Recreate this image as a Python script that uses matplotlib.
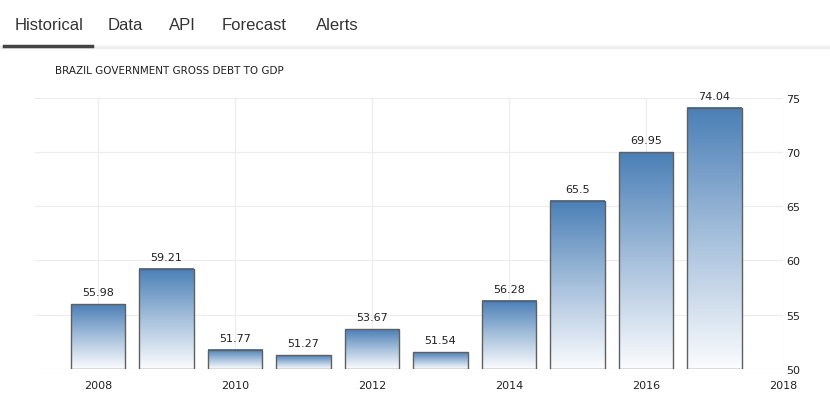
import numpy as np
import matplotlib
matplotlib.use("Agg")
import matplotlib.pyplot as plt
from matplotlib.colors import LinearSegmentedColormap

years = [2008, 2009, 2010, 2011, 2012, 2013, 2014, 2015, 2016, 2017]
values = [55.98, 59.21, 51.77, 51.27, 53.67, 51.54, 56.28, 65.5, 69.95, 74.04]
value_labels = ["55.98", "59.21", "51.77", "51.27", "53.67", "51.54", "56.28", "65.5", "69.95", "74.04"]
xticks = [2008, 2010, 2012, 2014, 2016, 2018]
yticks = [50, 55, 60, 65, 70, 75]
tabs = ["Historical", "Data", "API", "Forecast", "Alerts"]
title = "BRAZIL GOVERNMENT GROSS DEBT TO GDP"

W, H = 830, 402
fig = plt.figure(figsize=(W / 100, H / 100), dpi=100)
fig.patch.set_facecolor("white")

# tabs
tab_x = [15, 108, 169, 222, 316]
for t, x in zip(tabs, tab_x):
    fig.text(x / W, 1 - 25 / H, t, fontsize=12, color="#333333",
             family="Liberation Sans", va="center", ha="left")
fig.add_artist(plt.Line2D([0, 1], [1 - 48 / H, 1 - 48 / H], color="#eeeeee", lw=2.5))
fig.add_artist(plt.Line2D([4 / W, 92 / W], [1 - 47 / H, 1 - 47 / H], color="#444444", lw=2.5))

fig.text(55 / W, 1 - 71 / H, title, fontsize=7.5, color="#222222",
         family="DejaVu Sans", va="center", ha="left")

ax = fig.add_axes([35 / W, 32 / H, (783 - 35) / W, (370 - 98.5) / H])

cmap = LinearSegmentedColormap.from_list("g", ["#fbfcfe", "#a6c0dc", "#4a7fb6"])
grad = np.linspace(0, 1, 256).reshape(-1, 1)
bw = 0.8
for x, v, lab in zip(years, values, value_labels):
    ax.imshow(grad, extent=[x - bw / 2, x + bw / 2, 50, v], origin="lower",
              aspect="auto", cmap=cmap, zorder=2)
    ax.bar(x, v - 50, bottom=50, width=bw, facecolor="none",
           edgecolor="#5f5f5f", linewidth=1.0, zorder=3)
    ax.annotate(lab, (x, v), xytext=(0, 5), textcoords="offset points",
                ha="center", va="bottom", fontsize=8, color="#222222")

ax.set_xlim(2007.08, 2018)
ax.set_ylim(50, 75)
ax.set_xticks(xticks)
ax.set_xticklabels([str(t) for t in xticks])
ax.set_yticks(yticks)
ax.yaxis.tick_right()
ax.tick_params(axis="both", length=0, labelsize=8, colors="#222222")
ax.tick_params(axis="x", pad=8)
ax.tick_params(axis="y", pad=2)
ax.grid(True, color="#ececec", linewidth=0.8, zorder=0)
ax.set_axisbelow(True)
for s in ax.spines.values():
    s.set_visible(False)

fig.savefig("out.png", dpi=100, facecolor="white")
